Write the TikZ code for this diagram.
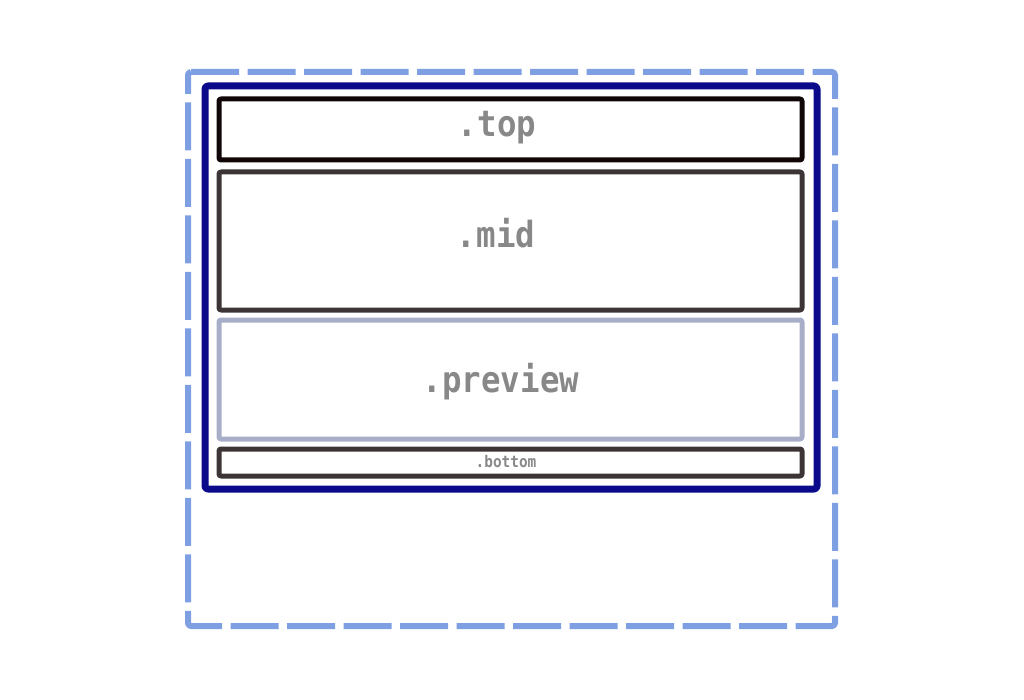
\documentclass[tikz,border=0pt]{standalone}
\usepackage{fontspec}
\newfontfamily\labelfont{DejaVu Sans Mono}[FakeStretch=0.9]
\definecolor{outerc}{HTML}{7F9FE3}
\definecolor{framec}{HTML}{0A0A8A}
\definecolor{topc}{HTML}{110606}
\definecolor{midc}{HTML}{3D3535}
\definecolor{prevc}{HTML}{A8AEC8}
\definecolor{textc}{HTML}{888888}
\tikzset{
	panel/.style={line width=5pt, rounded corners=2pt},
	biglabel/.style={anchor=base, text=textc, inner sep=0pt, font=\labelfont\bfseries\fontsize{36}{36}\selectfont},
	smalllabel/.style={anchor=base, text=textc, inner sep=0pt, font=\labelfont\bfseries\fontsize{16}{16}\selectfont}
}
\begin{document}
\begin{tikzpicture}[x=1pt, y=-1pt, line join=round]
			\useasboundingbox (0,0) rectangle (1024,700);
			\draw [outerc, line width=6pt, rounded corners=3pt, dash pattern=on 48pt off 8.5pt] (188,72)--(835,72)--(835,626)--(188,626)--cycle;
			\draw [framec, line width=7pt, rounded corners=3pt] (205,86) rectangle (817,489);
			\draw [panel, draw=topc] (219,99) rectangle (802,160);
			\draw [panel, draw=midc] (219,172) rectangle (802,310);
			\draw [panel, draw=prevc] (219,320) rectangle (802,439);
			\draw [panel, draw=midc] (219,449) rectangle (802,476);
			\node[biglabel] (top) at (497,137){.top};
			\node[biglabel] (mid) at (496,248){.mid};
			\node[biglabel] (preview) at (501,392){.preview};
			\node[smalllabel] (bottom) at (506,467){.bottom};
		\end{tikzpicture}
\end{document}
